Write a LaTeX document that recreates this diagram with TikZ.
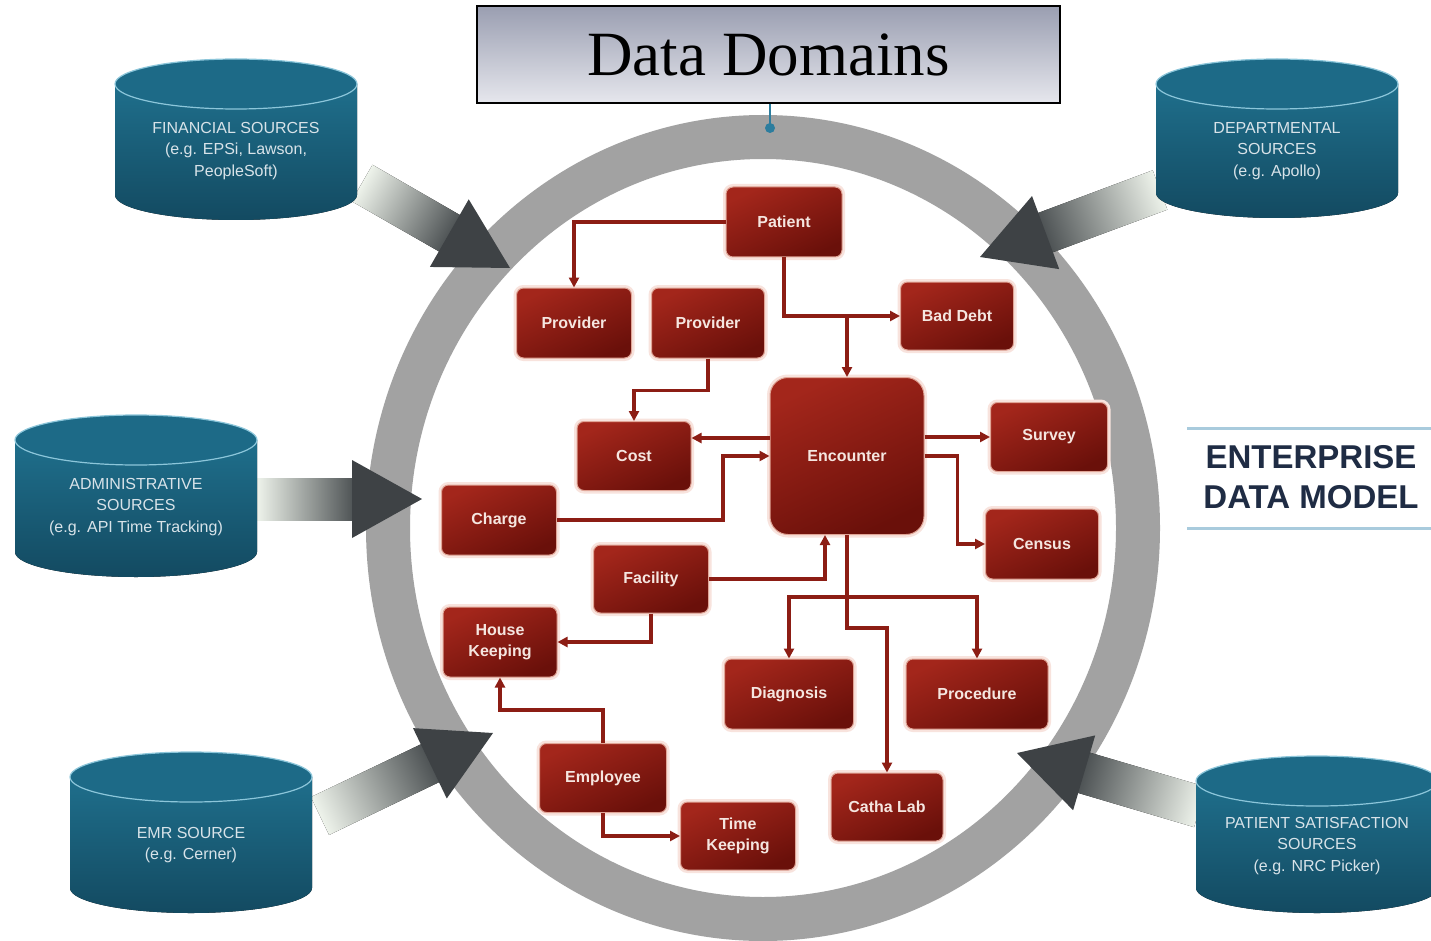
\documentclass[tikz,border=0pt]{standalone}
\usepackage{fontspec}
\setmainfont{Liberation Sans}
\newfontfamily\titlefont{Liberation Serif}
\usetikzlibrary{arrows.meta,calc}
\definecolor{ringgray}{HTML}{A2A2A2}
\definecolor{redT}{HTML}{A3261B}
\definecolor{redB}{HTML}{6A100A}
\definecolor{redRim}{HTML}{E0A597}
\definecolor{glowc}{HTML}{F8E3DD}
\definecolor{boxtext}{HTML}{F5E6E0}
\definecolor{connred}{HTML}{8C1D14}
\definecolor{cylT}{HTML}{1F6F8C}
\definecolor{cylB}{HTML}{134A61}
\definecolor{cylTop}{HTML}{1D6A87}
\definecolor{cylRim}{HTML}{8CC6DA}
\definecolor{cyltxt}{HTML}{D8E3E9}
\definecolor{arrL}{HTML}{EEF3EB}
\definecolor{arrM}{HTML}{A6B8A0}
\definecolor{arrD}{HTML}{4A4F51}
\definecolor{arrH}{HTML}{3E4245}
\definecolor{titleT}{HTML}{9A9EB1}
\definecolor{titleB}{HTML}{E6E7ED}
\definecolor{bluec}{HTML}{2C7D9E}
\definecolor{navy}{HTML}{1F2C44}
\definecolor{entline}{HTML}{A9CBDD}

\tikzset{
  ent/.style={rounded corners=7pt, minimum width=115pt, minimum height=70pt, inner sep=2pt,
    top color=redT, bottom color=redB, shading angle=25, draw=redRim, line width=1pt,
    text=boxtext, font=\bfseries\fontsize{16}{21}\selectfont, align=center,
    preaction={draw=glowc, line width=6pt}},
  conn/.style={draw=connred, line width=3.4pt, -{Triangle[length=10pt,width=10pt]}},
  cyltext/.style={text=cyltxt, font=\fontsize{16}{21.5}\selectfont, align=center},
}

\newcommand\dbcyl[6]{%
  \fill[top color=cylT, bottom color=cylB] (#2-121,#3) -- (#2-121,#4)
    arc[start angle=180, end angle=0, x radius=121, y radius=25] -- (#2+121,#3) -- cycle;
  \fill[cylTop] (#2,#3) ellipse [x radius=121, y radius=25];
  \draw[cylRim, line width=1.2pt] (#2,#3) ellipse [x radius=121, y radius=25];
  \node[cyltext] (#1) at (#2,#5) {#6};
}

\newcommand\bigarrow[2]{%
  \pgfmathanglebetweenpoints{\pgfpointanchor{#1}{center}}{\pgfpointanchor{#2}{center}}%
  \let\baang\pgfmathresult
  \pgfpointdiff{\pgfpointanchor{#1}{center}}{\pgfpointanchor{#2}{center}}%
  \pgfgetlastxy{\bax}{\bay}%
  \pgfmathsetmacro\balen{veclen(\bax,\bay)}%
  \begin{scope}[transform canvas={shift={(#1)},rotate=\baang}]
    \fill[left color=arrL, middle color=arrM, right color=arrD] (0,-21) rectangle (\balen-66,21);
    \fill[arrH] (\balen-70,-39) -- (\balen,0) -- (\balen-70,39) -- cycle;
  \end{scope}}

\begin{document}
\begin{tikzpicture}[x=1pt,y=-1pt]
\useasboundingbox (0,0) rectangle (1431,941);
\fill[white] (0,0) rectangle (1431,941);

% ring
\draw[ringgray, line width=44pt] (763,528) ellipse [x radius=375, y radius=391];

% big arrows
\coordinate (finT) at (362,183);  \coordinate (finH) at (510,268);
\coordinate (depT) at (1160,190); \coordinate (depH) at (980,257);
\coordinate (admT) at (257,499);  \coordinate (admH) at (422,499);
\coordinate (emrT) at (320,816);  \coordinate (emrH) at (493,733);
\coordinate (patT) at (1200,807); \coordinate (patH) at (1017,753);
\bigarrow{finT}{finH}
\bigarrow{depT}{depH}
\bigarrow{admT}{admH}
\bigarrow{emrT}{emrH}
\bigarrow{patT}{patH}

% cylinders
\dbcyl{fin}{236}{84}{195}{151}{FINANCIAL SOURCES\\(e.g. EPSi, Lawson,\\PeopleSoft)}
\dbcyl{dep}{1277}{84}{193}{151}{DEPARTMENTAL\\SOURCES\\(e.g. Apollo)}
\dbcyl{adm}{136}{440}{552}{507}{ADMINISTRATIVE\\SOURCES\\(e.g. API Time Tracking)}
\dbcyl{emr}{191}{777}{888}{845}{EMR SOURCE\\(e.g. Cerner)}
\dbcyl{pat}{1317}{781}{888}{846}{PATIENT SATISFACTION\\SOURCES\\(e.g. NRC Picker)}

% title
\node[draw=black, line width=1.5pt, top color=titleT, bottom color=titleB,
  minimum width=583pt, minimum height=97pt, inner sep=0pt,
  font=\titlefont\fontsize{63}{70}\selectfont] (title) at (768.5,54.5) {Data Domains};
\coordinate (dot) at (770,128);
\draw[bluec, line width=2.5pt] (title.south -| dot) -- (dot);
\fill[bluec] (dot) circle (5pt);

% enterprise data model
\draw[entline, line width=3pt] (1187,428) -- (1431,428);
\draw[entline, line width=3pt] (1187,528) -- (1431,528);
\node[font=\bfseries\fontsize{33}{40}\selectfont, text=navy, align=center] (edm) at (1311,477) {ENTERPRISE\\DATA MODEL};

% entity boxes
\node[ent, minimum width=116pt] (patient) at (784,222) {Patient};
\node[ent] (prov1) at (574,323) {Provider};
\node[ent, minimum width=113pt] (prov2) at (708,323) {Provider};
\node[ent, minimum width=113pt, minimum height=68pt] (baddebt) at (957,316) {Bad Debt};
\node[ent, minimum width=154pt, minimum height=157pt, rounded corners=18pt] (enc) at (847,456) {Encounter};
\node[ent, minimum width=114pt, minimum height=69pt] (cost) at (634,456) {Cost};
\node[ent, minimum width=117pt, minimum height=69pt] (survey) at (1049,437) {Survey};
\node[ent] (charge) at (499,520) {Charge};
\node[ent, minimum width=113pt] (census) at (1042,544) {Census};
\node[ent, minimum height=68pt] (facility) at (651,579) {Facility};
\node[ent, minimum width=114pt] (hk) at (500,642) {House\\Keeping};
\node[ent, minimum width=129pt] (diag) at (789,694) {Diagnosis};
\node[ent, minimum width=142pt] (proc) at (977,694) {Procedure};
\node[ent, minimum width=127pt, minimum height=69pt] (emp) at (603,778) {Employee};
\node[ent, minimum height=68pt] (tk) at (738,836) {Time\\Keeping};
\node[ent, minimum width=112pt, minimum height=68pt] (catha) at (887,807) {Catha Lab};

% connectors
\draw[conn] (patient.west) -| (prov1.north);
\draw[conn] (patient.south) |- (baddebt.west);
\draw[conn] (enc.north |- baddebt.west) -- (enc.north);
\draw[conn] (prov2.south) -- ++(0,32) -| (cost.north);
\draw[conn] ([yshift=18pt]enc.west) -- ([yshift=18pt]cost.east);
\draw[conn] (charge.east) -- ++(166,0) |- (enc.west);
\draw[conn] (enc.east |- survey.west) -- (survey.west);
\draw[conn] (enc.east) -- ++(33,0) |- (census.west);
\draw[conn] (facility.east) -| ([xshift=-22pt]enc.south);
\draw[conn] (facility.south) |- (hk.east);
\draw[conn] (enc.south) -- ++(0,93) -| (catha.north);
\draw[conn] ([yshift=-62pt]enc.south) -| (diag.north);
\draw[conn] ([yshift=-62pt]enc.south) -| (proc.north);
\draw[conn] (emp.north) -- ++(0,-33) -| (hk.south);
\draw[conn] (emp.south) |- (tk.west);
\end{tikzpicture}
\end{document}
